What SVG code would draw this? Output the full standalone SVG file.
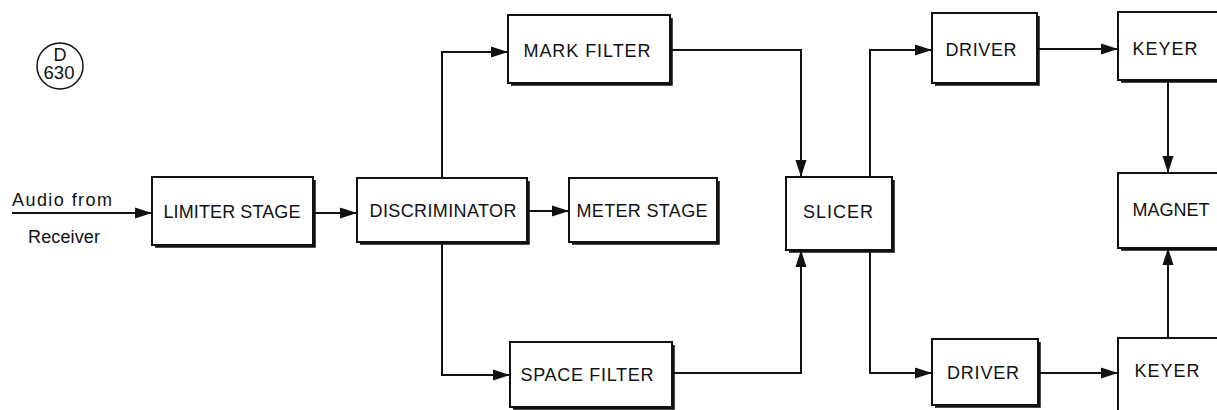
<svg xmlns="http://www.w3.org/2000/svg" width="1217" height="410" viewBox="0 0 1217 410">
<style>
.box{fill:#fff;stroke:#111;stroke-width:2}
.sh{fill:none;stroke:#111;stroke-width:2.5}
.lbl{font-family:"Liberation Sans",Arial,sans-serif;font-size:18px;fill:#111;text-anchor:middle}
.ln{fill:none;stroke:#111;stroke-width:2}
</style>
<defs>
<marker id="ah" markerUnits="userSpaceOnUse" markerWidth="18" markerHeight="12" refX="17" refY="6" orient="auto">
<path d="M0,0.5 L17,6 L0,11.5 Z" fill="#111"/>
</marker>
</defs>
<rect width="1217" height="410" fill="#fff"/>
<g id="ref-tag">
<circle cx="60" cy="66" r="23" fill="none" stroke="#111" stroke-width="1.5"/>
<text class="lbl" x="60" y="61">D</text>
<text class="lbl" x="59" y="79" textLength="31" lengthAdjust="spacingAndGlyphs">630</text>
</g>
<g id="input-label">
<text class="lbl" x="62" y="206" textLength="100" lengthAdjust="spacing">Audio from</text>
<text class="lbl" x="64" y="243" textLength="72" lengthAdjust="spacing">Receiver</text>
</g>
<g id="connectors">
<path class="ln" d="M12 213 H152" marker-end="url(#ah)"/>
<path class="ln" d="M313 213 H357" marker-end="url(#ah)"/>
<path class="ln" d="M527 211 H569" marker-end="url(#ah)"/>
<path class="ln" d="M442 178 V52 H508" marker-end="url(#ah)"/>
<path class="ln" d="M442 242 V375 H510" marker-end="url(#ah)"/>
<path class="ln" d="M670 50 H801 V177" marker-end="url(#ah)"/>
<path class="ln" d="M672 373 H801 V250" marker-end="url(#ah)"/>
<path class="ln" d="M870 177 V50 H932" marker-end="url(#ah)"/>
<path class="ln" d="M870 250 V373 H932" marker-end="url(#ah)"/>
<path class="ln" d="M1037 49 H1118" marker-end="url(#ah)"/>
<path class="ln" d="M1038 373 H1118" marker-end="url(#ah)"/>
<path class="ln" d="M1168 80 V173" marker-end="url(#ah)"/>
<path class="ln" d="M1168 338 V248" marker-end="url(#ah)"/>
</g>
<g id="limiter">
<rect class="box" x="152" y="177" width="161" height="68"/>
<path class="sh" d="M314.5 180 V246.5 H155"/>
<text class="lbl" x="232" y="218" textLength="137" lengthAdjust="spacing">LIMITER STAGE</text>
</g>
<g id="discriminator">
<rect class="box" x="357" y="178" width="170" height="64"/>
<path class="sh" d="M528.5 181 V243.5 H360"/>
<text class="lbl" x="443" y="217" textLength="147" lengthAdjust="spacing">DISCRIMINATOR</text>
</g>
<g id="meter">
<rect class="box" x="569" y="178" width="148" height="64"/>
<path class="sh" d="M718.5 181 V243.5 H572"/>
<text class="lbl" x="642" y="217" textLength="131" lengthAdjust="spacing">METER STAGE</text>
</g>
<g id="mark-filter">
<rect class="box" x="508" y="15" width="162" height="68"/>
<path class="sh" d="M671.5 18 V84.5 H511"/>
<text class="lbl" x="587" y="57" textLength="127" lengthAdjust="spacing">MARK FILTER</text>
</g>
<g id="space-filter">
<rect class="box" x="510" y="342" width="162" height="65"/>
<path class="sh" d="M673.5 345 V408.5 H513"/>
<text class="lbl" x="587" y="381" textLength="133" lengthAdjust="spacing">SPACE FILTER</text>
</g>
<g id="slicer">
<rect class="box" x="786" y="177" width="106" height="73"/>
<path class="sh" d="M893.5 180 V251.5 H789"/>
<text class="lbl" x="838" y="218" textLength="70" lengthAdjust="spacing">SLICER</text>
</g>
<g id="driver-top">
<rect class="box" x="932" y="13" width="105" height="70"/>
<path class="sh" d="M1038.5 16 V84.5 H935"/>
<text class="lbl" x="981" y="56" textLength="71" lengthAdjust="spacing">DRIVER</text>
</g>
<g id="driver-bottom">
<rect class="box" x="932" y="339" width="106" height="66"/>
<path class="sh" d="M1039.5 342 V406.5 H935"/>
<text class="lbl" x="983" y="379" textLength="72" lengthAdjust="spacing">DRIVER</text>
</g>
<g id="keyer-top">
<rect class="box" x="1118" y="12" width="110" height="68"/>
<path class="sh" d="M1229.5 15 V81.5 H1121"/>
<text class="lbl" x="1165" y="55" textLength="65" lengthAdjust="spacing">KEYER</text>
</g>
<g id="magnet">
<rect class="box" x="1118" y="173" width="110" height="75"/>
<path class="sh" d="M1229.5 176 V249.5 H1121"/>
<text class="lbl" x="1171" y="216" textLength="77" lengthAdjust="spacing">MAGNET</text>
</g>
<g id="keyer-bottom">
<rect class="box" x="1118" y="338" width="110" height="80"/>
<text class="lbl" x="1167" y="377" textLength="65" lengthAdjust="spacing">KEYER</text>
</g>
</svg>
